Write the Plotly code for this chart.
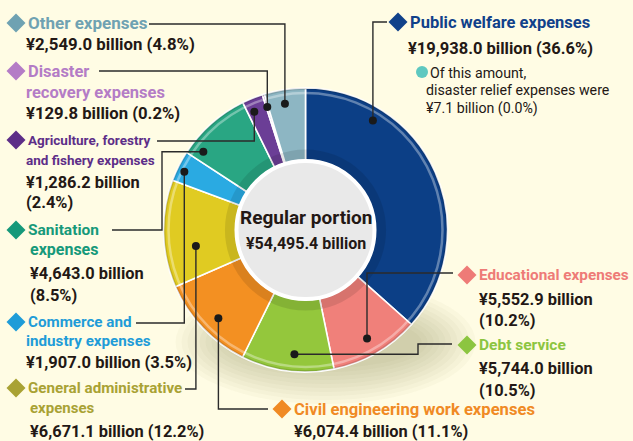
import math
import plotly.graph_objects as go

W, H = 633, 441

# ---- data -------------------------------------------------------------
categories = [
    "Public welfare expenses",
    "Educational expenses",
    "Debt service",
    "Civil engineering work expenses",
    "General administrative expenses",
    "Commerce and industry expenses",
    "Sanitation expenses",
    "Agriculture, forestry and fishery expenses",
    "Disaster recovery expenses",
    "Other expenses",
]
amounts = [19938.0, 5552.9, 5744.0, 6074.4, 6671.1, 1907.0, 4643.0, 1286.2, 129.8, 2549.0]
shares = [36.6, 10.2, 10.5, 11.1, 12.2, 3.5, 8.5, 2.4, 0.2, 4.8]
total_amount = 54495.4
relief_amount = 7.1
relief_share = 0.0

slice_colors = ["#0c3f86", "#f0807a", "#94c73c", "#f39022", "#e0cb22",
                "#2aaae2", "#29a683", "#6b3e96", "#a675bd", "#8db6c3"]
title_colors = ["#10418a", "#ee7b77", "#8cc540", "#f08a24", "#a9a234",
                "#1f9cd8", "#16997a", "#5d2e88", "#b47cc6", "#6fa2b2"]

# label title lines (split as laid out)
title_lines = [
    ["Public welfare expenses"],
    ["Educational expenses"],
    ["Debt service"],
    ["Civil engineering work expenses"],
    ["General administrative", "expenses"],
    ["Commerce and", "industry expenses"],
    ["Sanitation", "expenses"],
    ["Agriculture, forestry", "and fishery expenses"],
    ["Disaster", "recovery expenses"],
    ["Other expenses"],
]


def fmt_amount(v):
    return "\u00a5{:,.1f} billion".format(v)


def fmt_share(s):
    return "({:.1f}%)".format(s)


# value lines: whether amount and share sit on one line or two
value_split = [False, True, True, False, False, False, True, True, False, False]

# ---- layout constants -------------------------------------------------
CX, CY, R = 305.5, 230.0, 142.0
HOLE = 0.49
CENTER_R = 69.0

FONT = "Roboto, Liberation Sans, Arial, sans-serif"
BODY_COLOR = "#231815"
LINE_COLOR = "#2b2b2b"
BG = "#fffce4"

# label anchor: diamond centre x, first title line y, title x, other lines x,
# line gaps, font sizes of the title lines, font size of the value lines
label_pos = [
    dict(dx=398, ty=22, tx=409, vx=407, gaps=[26], tsz=[16.5], vsize=16.5),
    dict(dx=467, ty=275, tx=478, vx=478, gaps=[24, 21], tsz=[15.3], vsize=16.4),
    dict(dx=467, ty=345, tx=478, vx=478, gaps=[23, 22], tsz=[15.5], vsize=16.4),
    dict(dx=282, ty=409, tx=293, vx=293, gaps=[22], tsz=[16.6], vsize=16.4),
    dict(dx=16, ty=388, tx=27, vx=29, gaps=[20, 23], tsz=[15.2, 15], vsize=16.4),
    dict(dx=16, ty=322, tx=27, vx=25, gaps=[19, 21], tsz=[15.2, 15.2], vsize=16.5),
    dict(dx=16, ty=230, tx=27, vx=29, gaps=[19, 24, 22], tsz=[15.5, 16], vsize=16.4),
    dict(dx=16, ty=140, tx=27, vx=25, gaps=[20, 22, 20], tsz=[13.5, 13.5], vsize=16.4),
    dict(dx=16, ty=71, tx=27, vx=25, gaps=[21, 21], tsz=[16.5, 16.5], vsize=16.7),
    dict(dx=16, ty=23, tx=27, vx=25, gaps=[21], tsz=[17], vsize=16.8),
]

# where each marker dot sits inside its slice: (fraction of sweep, fraction of radius)
dot_place = [(0.24, 0.905), (0.51, 0.878), (0.44, 0.879), (0.455, 0.874), (0.345, 0.78),
             (0.41, 0.947), (0.14, 0.906), (0.33, 0.908), (0.5, 0.907), (0.45, 0.90)]

# leader routes: start of line near label (x, y), optional elbow x
leader = [
    dict(sx=387, sy=22, ex=None),
    dict(sx=453, sy=273, ex=None),
    dict(sx=452, sy=344, ex=418),
    dict(sx=268, sy=409, ex=None),
    dict(sx=185, sy=389, ex=None),
    dict(sx=136, sy=323, ex=None),
    dict(sx=112, sy=230, ex=162),
    dict(sx=157, sy=141, ex=None),
    dict(sx=99, sy=71, ex=None),
    dict(sx=149, sy=24, ex=None),
]

fig = go.Figure()

# invisible pixel-space axes for annotations and shapes
fig.add_trace(go.Scatter(x=[0, W], y=[0, H], mode="markers",
                         marker=dict(opacity=0), hoverinfo="skip", showlegend=False))

fig.add_trace(go.Pie(
    values=amounts,
    labels=categories,
    sort=False,
    direction="clockwise",
    rotation=0,
    hole=HOLE,
    marker=dict(colors=slice_colors, line=dict(color="white", width=1.6)),
    textinfo="none",
    hoverinfo="label+value+percent",
    showlegend=False,
    domain=dict(x=[(CX - R) / W, (CX + R) / W], y=[1 - (CY + R) / H, 1 - (CY - R) / H]),
))

shapes = []

# soft shadow beneath the ring (stacked translucent ellipses)
scx, scy = CX + 20, CY + 112
for k in range(10):
    rx = 150 - k * 6
    ry = 62 - k * 4
    shapes.append(dict(type="circle", layer="below", xref="x", yref="y",
                       x0=scx - rx, x1=scx + rx, y0=scy - ry, y1=scy + ry,
                       fillcolor="rgba(120,110,70,0.035)", line=dict(width=0)))

# bevel highlights on the ring
shapes.append(dict(type="circle", layer="above", xref="x", yref="y",
                   x0=CX - (R - 5), x1=CX + (R - 5), y0=CY - (R - 5), y1=CY + (R - 5),
                   line=dict(color="rgba(255,255,255,0.35)", width=2.5)))
shapes.append(dict(type="circle", layer="above", xref="x", yref="y",
                   x0=CX - (R - 1), x1=CX + (R - 1), y0=CY - (R - 1), y1=CY + (R - 1),
                   line=dict(color="rgba(0,0,0,0.12)", width=2)))
ir = R * HOLE + 6
shapes.append(dict(type="circle", layer="above", xref="x", yref="y",
                   x0=CX - ir, x1=CX + ir, y0=CY - ir, y1=CY + ir,
                   line=dict(color="rgba(0,0,0,0.10)", width=10)))

# centre disc
shapes.append(dict(type="circle", layer="above", xref="x", yref="y",
                   x0=CX - CENTER_R, x1=CX + CENTER_R, y0=CY - CENTER_R, y1=CY + CENTER_R,
                   fillcolor="#e9e9e9", line=dict(color="white", width=4)))

annotations = []

# slice angles derived from the values
cum = 0.0
for i, v in enumerate(amounts):
    a0 = cum / total_amount * 360.0
    cum += v
    a1 = cum / total_amount * 360.0
    fr, rf = dot_place[i]
    ang = math.radians(a0 + fr * (a1 - a0))
    px = CX + rf * R * math.sin(ang)
    py = CY - rf * R * math.cos(ang)

    ld = leader[i]
    if ld["ex"] is None:
        path = "M %.1f,%.1f L %.1f,%.1f L %.1f,%.1f" % (ld["sx"], ld["sy"], px, ld["sy"], px, py)
    else:
        path = "M %.1f,%.1f L %.1f,%.1f L %.1f,%.1f L %.1f,%.1f" % (
            ld["sx"], ld["sy"], ld["ex"], ld["sy"], ld["ex"], py, px, py)
    shapes.append(dict(type="path", layer="above", xref="x", yref="y", path=path,
                       line=dict(color=LINE_COLOR, width=1.4)))
    shapes.append(dict(type="circle", layer="above", xref="x", yref="y",
                       x0=px - 4, x1=px + 4, y0=py - 4, y1=py + 4,
                       fillcolor="#1a1a1a", line=dict(width=0)))

    # diamond marker
    lp = label_pos[i]
    d = 9.5
    dx, dy = lp["dx"], lp["ty"]
    shapes.append(dict(type="path", layer="above", xref="x", yref="y",
                       path="M %.1f,%.1f L %.1f,%.1f L %.1f,%.1f L %.1f,%.1f Z" % (
                           dx - d, dy, dx, dy - d, dx + d, dy, dx, dy + d),
                       fillcolor=title_colors[i], line=dict(width=0)))

    # text lines
    y = lp["ty"]
    lines = []
    for j, t in enumerate(title_lines[i]):
        lines.append((t, title_colors[i], lp["tsz"][j], lp["tx"] if j == 0 else lp["vx"]))
    if value_split[i]:
        lines.append((fmt_amount(v), BODY_COLOR, lp["vsize"], lp["vx"]))
        lines.append((fmt_share(shares[i]), BODY_COLOR, lp["vsize"], lp["vx"]))
    else:
        lines.append((fmt_amount(v) + " " + fmt_share(shares[i]), BODY_COLOR, lp["vsize"], lp["vx"]))
    for j, (t, col, sz, tx) in enumerate(lines):
        if j > 0:
            y += lp["gaps"][j - 1]
        annotations.append(dict(x=tx, y=y, xref="x", yref="y", text=t, showarrow=False,
                                xanchor="left", yanchor="middle", borderpad=0,
                                font=dict(family=FONT, size=sz, color=col, weight="bold")))

# note under public welfare
shapes.append(dict(type="circle", layer="above", xref="x", yref="y",
                   x0=416, x1=428, y0=66, y1=78, fillcolor="#5ec8c0", line=dict(width=0)))
note_lines = ["Of this amount,", "disaster relief expenses were",
              fmt_amount(relief_amount) + " " + fmt_share(relief_share)]
for j, (t, nx, ny) in enumerate(zip(note_lines, [429, 425, 425], [73, 90, 108])):
    annotations.append(dict(x=nx, y=ny, xref="x", yref="y", text=t, showarrow=False,
                            xanchor="left", yanchor="middle", borderpad=0,
                            font=dict(family=FONT, size=14.2, color=BODY_COLOR)))

# centre caption
annotations.append(dict(x=CX, y=217, xref="x", yref="y", text="Regular portion", showarrow=False,
                        xanchor="center", yanchor="middle",
                        font=dict(family=FONT, size=19, color=BODY_COLOR, weight="bold")))
annotations.append(dict(x=CX, y=243, xref="x", yref="y", text=fmt_amount(total_amount),
                        showarrow=False, xanchor="center", yanchor="middle",
                        font=dict(family=FONT, size=16, color=BODY_COLOR, weight="bold")))

fig.update_layout(
    width=W, height=H,
    margin=dict(l=0, r=0, t=0, b=0),
    paper_bgcolor=BG, plot_bgcolor=BG,
    xaxis=dict(range=[0, W], visible=False, fixedrange=True, domain=[0, 1]),
    yaxis=dict(range=[H, 0], visible=False, fixedrange=True, domain=[0, 1]),
    shapes=shapes,
    annotations=annotations,
    showlegend=False,
)

fig.write_html("out.html")
